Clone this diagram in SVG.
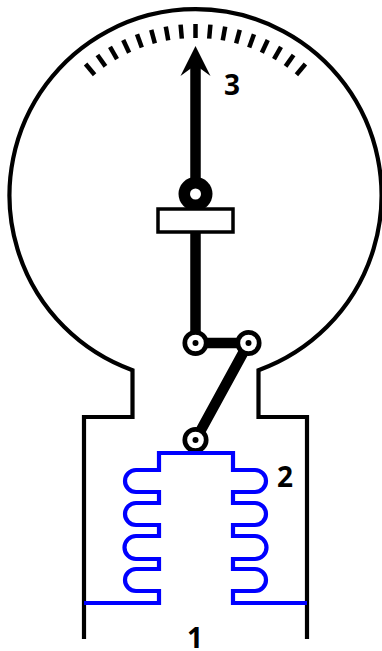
<svg xmlns="http://www.w3.org/2000/svg" width="382" height="651" viewBox="0 0 382 651">
<style>
.o{fill:none;stroke:#000;stroke-width:4.2}
.c{fill:none;stroke:#00f;stroke-width:4.2}
.t{fill:#000;font-family:"Open Sans","Liberation Sans",sans-serif;font-weight:700;font-size:28px;text-anchor:middle}
.b{fill:none;stroke:#000;stroke-width:10.500}
</style>
<defs>
<g id="piv"><circle r="10.700" fill="#fff" stroke="#000" stroke-width="4.700"/><circle r="3" fill="#000"/></g>
</defs>
<g id="housing"><path class="o" d="M84 639V417H132.500V370.200A186 186 0 1 1 258.500 370.200V417H307V639"/></g>
<g id="scale" stroke="#000" stroke-width="4.500">
<path id="ticks" d="M195.500 24V38" transform="rotate(0 195.500 195)"/>
<path d="M195.500 24V38" transform="rotate(5 195.500 195)"/><path d="M195.500 24V38" transform="rotate(10 195.500 195)"/><path d="M195.500 24V38" transform="rotate(15 195.500 195)"/><path d="M195.500 24V38" transform="rotate(20 195.500 195)"/><path d="M195.500 24V38" transform="rotate(25 195.500 195)"/><path d="M195.500 24V38" transform="rotate(30 195.500 195)"/><path d="M195.500 24V38" transform="rotate(35 195.500 195)"/><path d="M195.500 24V38" transform="rotate(40 195.500 195)"/>
<path d="M195.500 24V38" transform="rotate(-5 195.500 195)"/><path d="M195.500 24V38" transform="rotate(-10 195.500 195)"/><path d="M195.500 24V38" transform="rotate(-15 195.500 195)"/><path d="M195.500 24V38" transform="rotate(-20 195.500 195)"/><path d="M195.500 24V38" transform="rotate(-25 195.500 195)"/><path d="M195.500 24V38" transform="rotate(-30 195.500 195)"/><path d="M195.500 24V38" transform="rotate(-35 195.500 195)"/><path d="M195.500 24V38" transform="rotate(-40 195.500 195)"/>
</g>
<g id="connectors">
<path class="b" d="M195.500 195V65"/>
<path d="M195.500 46L210.500 76L195.500 65L180.500 76Z" fill="#000"/>
<path class="b" d="M195.500 232V343H248.500L195.500 440"/>
</g>
<g id="pointer-pivot"><circle cx="195.500" cy="194" r="17" fill="#000"/><circle cx="195.500" cy="194" r="5.500" fill="#fff"/></g>
<g id="block"><rect x="158" y="209" width="75" height="23" fill="#fff" stroke="#000" stroke-width="3.500"/></g>
<use id="pivot-a" href="#piv" x="195.500" y="343"/>
<use id="pivot-b" href="#piv" x="248.500" y="343"/>
<use id="pivot-c" href="#piv" x="195.500" y="440"/>
<g id="bellows"><path class="c" d="M84 603H159V591H136A11 11 0 0 1 136 569H159V559H136A11.500 11.500 0 0 1 136 536H159V525H136A11 11 0 0 1 136 503H159V492H136A11 11 0 0 1 136 470H159V453H233V470H255A11 11 0 0 1 255 492H233V503H255A11 11 0 0 1 255 525H233V536H255A11.500 11.500 0 0 1 255 559H233V569H255A11 11 0 0 1 255 591H233V603H307"/></g>
<g id="label-1"><text class="t" x="195" y="648">1</text></g>
<g id="label-2"><text class="t" x="285" y="487">2</text></g>
<g id="label-3"><text class="t" x="232" y="95">3</text></g>
</svg>
